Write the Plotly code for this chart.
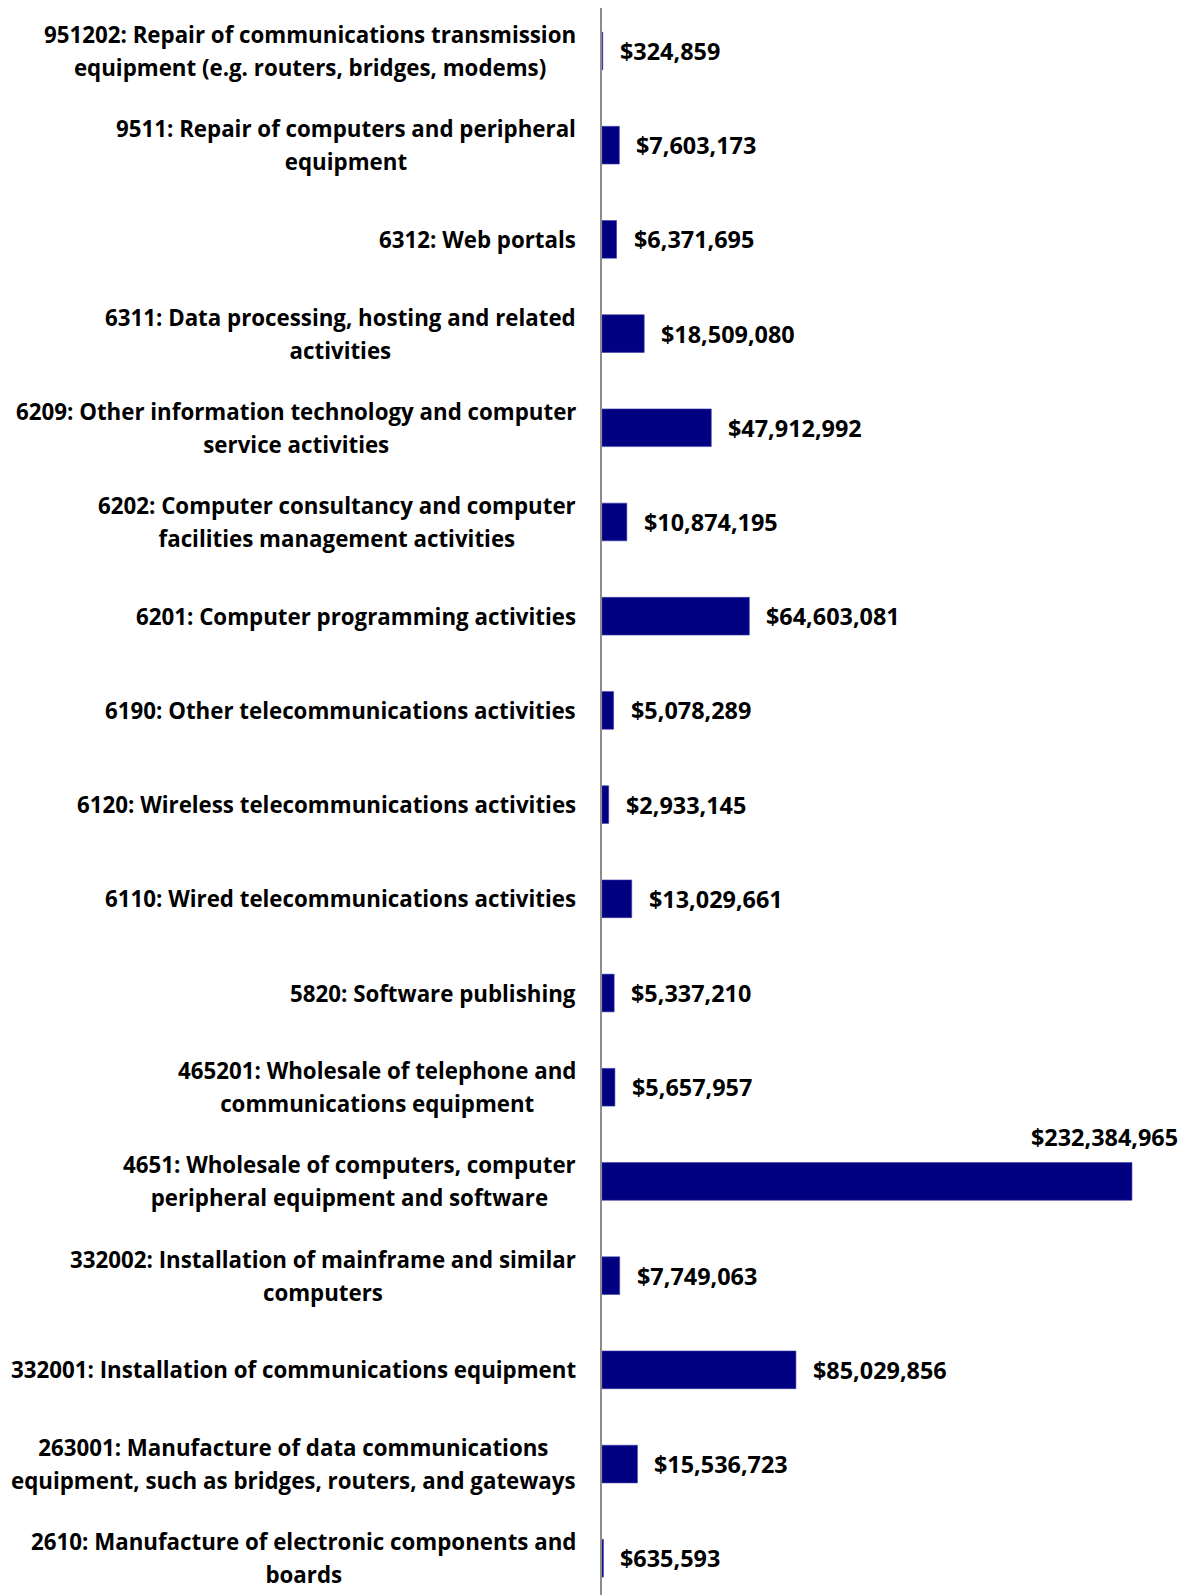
import plotly.graph_objects as go

categories = [
    "951202: Repair of communications transmission<br>equipment (e.g. routers, bridges, modems)",
    "9511: Repair of computers and peripheral<br>equipment",
    "6312: Web portals",
    "6311: Data processing, hosting and related<br>activities",
    "6209: Other information technology and computer<br>service activities",
    "6202: Computer consultancy and computer<br>facilities management activities",
    "6201: Computer programming activities",
    "6190: Other telecommunications activities",
    "6120: Wireless telecommunications activities",
    "6110: Wired telecommunications activities",
    "5820: Software publishing",
    "465201: Wholesale of telephone and<br>communications equipment",
    "4651: Wholesale of computers, computer<br>peripheral equipment and software",
    "332002: Installation of mainframe and similar<br>computers",
    "332001: Installation of communications equipment",
    "263001: Manufacture of data communications<br>equipment, such as bridges, routers, and gateways",
    "2610: Manufacture of electronic components and<br>boards",
]
values = [
    324859, 7603173, 6371695, 18509080, 47912992, 10874195, 64603081,
    5078289, 2933145, 13029661, 5337210, 5657957, 232384965, 7749063,
    85029856, 15536723, 635593,
]

FONT = "Open Sans"
NAVY = "#000080"
keys = [f"c{i}" for i in range(len(categories))]

fig = go.Figure()
fig.add_trace(
    go.Bar(
        x=values,
        y=keys,
        orientation="h",
        marker={"color": NAVY, "line": {"color": "#3a3aa8", "width": 0.6}},
        width=0.4,
        hoverinfo="skip",
    )
)

annotations = []
# category labels: bigger base size only sets the line spacing
for key, label in zip(keys, categories):
    text = "<br>".join(
        f'<span style="font-size:22.3px">{part}</span>' for part in label.split("<br>")
    )
    annotations.append(
        dict(
            x=0, xref="paper", y=key, yref="y",
            xanchor="right", yanchor="middle", xshift=-24,
            text=text, align="center", showarrow=False,
            font={"family": FONT, "size": 25, "color": "black", "weight": 700},
        )
    )

top = max(values)
value_font = {"family": FONT, "size": 23.4, "color": "black", "weight": 700}
for key, v in zip(keys, values):
    label = f"${v:,.0f}"
    if v == top:
        annotations.append(
            dict(
                x=v, y=key, xanchor="right", yanchor="middle",
                xshift=48, yshift=44, text=label, showarrow=False,
                font=value_font,
            )
        )
    else:
        annotations.append(
            dict(
                x=v, y=key, xanchor="left", yanchor="middle",
                xshift=15, text=label, showarrow=False,
                font=value_font,
            )
        )

fig.update_layout(
    width=1181,
    height=1587,
    margin={"l": 594, "r": 0, "t": 0, "b": 0},
    paper_bgcolor="white",
    plot_bgcolor="white",
    showlegend=False,
    annotations=annotations,
    xaxis={
        "range": [0, 257.4e6],
        "visible": False,
        "fixedrange": True,
    },
    yaxis={
        "type": "category",
        "categoryorder": "array",
        "categoryarray": keys,
        "range": [16.39, -0.456],
        "showticklabels": False,
        "ticks": "",
        "showgrid": False,
        "zeroline": False,
        "showline": True,
        "linecolor": "#8c8c8c",
        "linewidth": 1.5,
        "fixedrange": True,
    },
)

fig.write_html("out.html")
